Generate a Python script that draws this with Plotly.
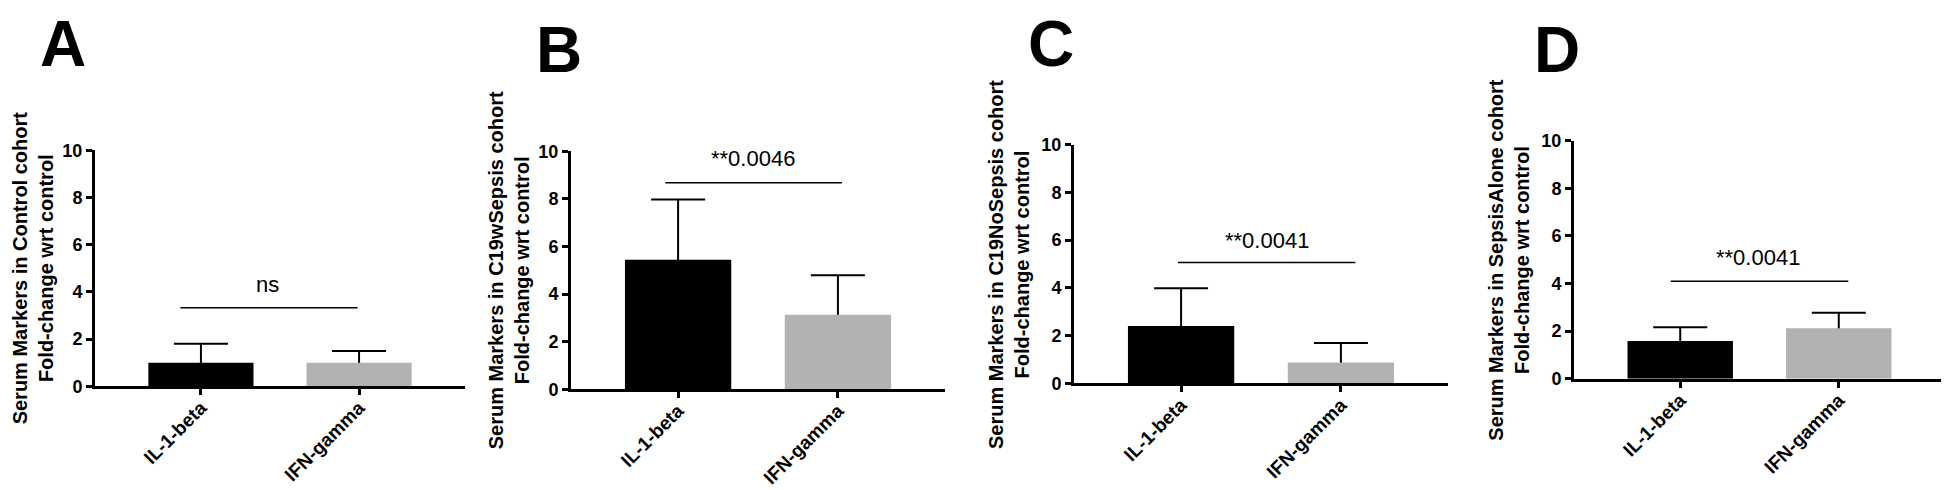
import plotly.graph_objects as go

# data
categories = ["IL-1-beta", "IFN-gamma"]
panel_letters = ["A", "B", "C", "D"]
cohorts = ["Control", "C19wSepsis", "C19NoSepsis", "SepsisAlone"]

mean_a = [1.0, 1.0]
mean_b = [5.44, 3.13]
mean_c = [2.41, 0.88]
mean_d = [1.58, 2.12]

sd_a = [0.80, 0.50]
sd_b = [2.54, 1.66]
sd_c = [1.58, 0.81]
sd_d = [0.58, 0.65]

sig_labels = ["ns", "**0.0046", "**0.0041", "**0.0041"]
sig_levels = [3.33, 8.68, 5.06, 4.10]
sig_text_levels = [4.3, 9.7, 6.0, 5.1]

means = [mean_a, mean_b, mean_c, mean_d]
sds = [sd_a, sd_b, sd_c, sd_d]

W, H = 1949, 490
bar_colors = ["black", "#b2b2b5"]
font_family = "Arial, Liberation Sans, sans-serif"

# layout of each panel in pixels (left, right, top, bottom of the plot area)
boxes = [
    (87, 457, 138, 384),
    (563, 937, 139, 387),
    (1066, 1440, 132, 381),
    (1566, 1937, 128, 376),
]
sig_spans = [(-0.13, 0.99), (-0.08, 1.025), (-0.02, 1.09), (-0.06, 1.06)]
sig_text_x = [0.42, 0.47, 0.54, 0.49]
title_x = [25, 501, 1001, 1501]
letter_pos = [(55, 27), (551, 33), (1043, 27), (1549, 33)]

fig = go.Figure()
layout = {}
shapes = []
annotations = []

for i in range(4):
    n = "" if i == 0 else str(i + 1)
    xref, yref = "x" + n, "y" + n
    left, right, top, bottom = boxes[i]

    # transparent bars carrying the error bars, then the real bars on top
    fig.add_trace(go.Bar(
        x=categories, y=means[i], xaxis=xref, yaxis=yref, width=0.665,
        marker=dict(color="rgba(0,0,0,0)", line=dict(width=0)),
        error_y=dict(type="data", array=sds[i], symmetric=True,
                     color="black", thickness=2, width=27),
        showlegend=False, hoverinfo="skip",
    ))
    fig.add_trace(go.Bar(
        x=categories, y=means[i], xaxis=xref, yaxis=yref, width=0.665,
        marker=dict(color=bar_colors, line=dict(width=0)),
        showlegend=False,
    ))

    layout["xaxis" + n] = dict(
        domain=[left / W, right / W], anchor=yref, type="category",
        range=[-0.67, 1.67], showline=True, linecolor="black", linewidth=3,
        ticks="outside", ticklen=6, tickwidth=3, tickcolor="black",
        tickangle=-45, ticklabelstandoff=-6, showgrid=False, zeroline=False,
        tickfont=dict(family=font_family, size=19, color="black", weight="bold"),
    )
    layout["yaxis" + n] = dict(
        domain=[1 - bottom / H, 1 - top / H], anchor=xref,
        range=[0, 10], tickvals=[0, 2, 4, 6, 8, 10],
        showline=True, linecolor="black", linewidth=3,
        ticks="outside", ticklen=6, tickwidth=3, tickcolor="black",
        showgrid=False, zeroline=False,
        tickfont=dict(family=font_family, size=18, color="black", weight="bold"),
    )

    # significance bar and label
    x0, x1 = sig_spans[i]
    shapes.append(dict(type="line", xref=xref, yref=yref, x0=x0, x1=x1,
                       y0=sig_levels[i], y1=sig_levels[i],
                       line=dict(color="black", width=1.5)))
    annotations.append(dict(xref=xref, yref=yref, x=sig_text_x[i], y=sig_text_levels[i],
                            text=sig_labels[i], showarrow=False,
                            xanchor="center", yanchor="middle",
                            font=dict(family=font_family, size=22, color="black")))

    # y-axis title
    annotations.append(dict(
        xref="paper", yref="paper", x=title_x[i] / W, y=1 - (top + bottom) / 2 / H,
        text="Serum Markers in " + cohorts[i] + " cohort<br>Fold-change wrt control",
        textangle=-90, showarrow=False, xanchor="center", yanchor="middle",
        font=dict(family=font_family, size=20, color="black", weight="bold"),
    ))

    # panel letter
    lx, ly = letter_pos[i]
    annotations.append(dict(
        xref="paper", yref="paper", x=lx / W, y=1 - ly / H, text=panel_letters[i],
        showarrow=False, xanchor="center", yanchor="middle",
        font=dict(family=font_family, size=64, color="black", weight="bold"),
    ))

fig.update_layout(
    width=W, height=H, margin=dict(l=0, r=0, t=0, b=0),
    paper_bgcolor="white", plot_bgcolor="white",
    barmode="overlay", shapes=shapes, annotations=annotations,
    **layout,
)

fig.write_html("out.html")
